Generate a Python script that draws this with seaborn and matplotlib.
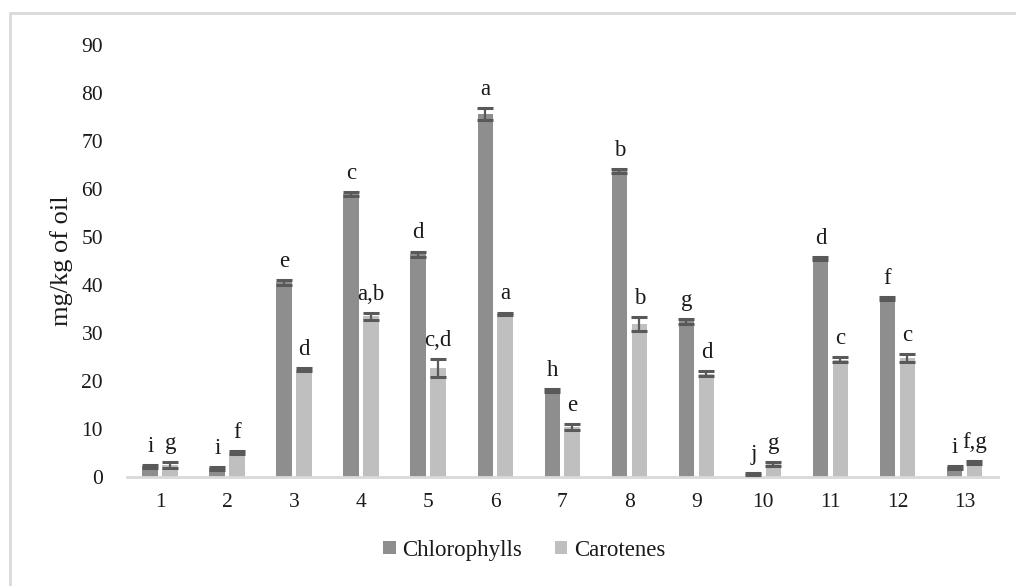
import matplotlib
matplotlib.use("Agg")
import matplotlib.pyplot as plt
import numpy as np
import pandas as pd
import seaborn as sns
from matplotlib.patches import Rectangle

# Samples and measured pigment contents (mg/kg of oil)
samples = [str(i) for i in range(1, 14)]
chlorophylls = [2.3, 1.9, 40.6, 59.0, 46.4, 75.6, 18.1, 63.7, 32.5, 0.6, 45.5, 37.2, 2.1]
carotenes = [2.5, 5.1, 22.4, 33.5, 22.8, 34.0, 10.4, 31.9, 21.6, 2.8, 24.5, 24.9, 3.0]
chlorophylls_sd = [0.3, 0.3, 0.5, 0.4, 0.6, 1.2, 0.3, 0.4, 0.5, 0.2, 0.3, 0.3, 0.3]
carotenes_sd = [0.6, 0.3, 0.3, 0.7, 1.9, 0.3, 0.6, 1.5, 0.5, 0.4, 0.5, 0.8, 0.3]
chlorophylls_groups = ["i", "i", "e", "c", "d", "a", "h", "b", "g", "j", "d", "f", "i"]
carotenes_groups = ["g", "f", "d", "a,b", "c,d", "a", "e", "b", "d", "g", "c", "c", "f,g"]
series_names = ["Chlorophylls", "Carotenes"]
y_ticks = [0, 10, 20, 30, 40, 50, 60, 70, 80, 90]

df = pd.DataFrame({
    "sample": samples * 2,
    "value": chlorophylls + carotenes,
    "pigment": [series_names[0]] * len(samples) + [series_names[1]] * len(samples),
})

sns.set_theme(style="white")
plt.rcParams["font.family"] = ["Liberation Serif", "DejaVu Serif"]
plt.rcParams["text.color"] = "#1a1a1a"

fig = plt.figure(figsize=(10.16, 5.86), dpi=100)
ax = fig.add_axes([126.7 / 1016, 1 - 477.3 / 586, (998 - 126.7) / 1016, (477.3 - 45) / 586])

palette = {series_names[0]: "#8e8e8e", series_names[1]: "#bfbfbf"}
sns.barplot(data=df, x="sample", y="value", hue="pigment", order=samples,
            hue_order=series_names, palette=palette, width=0.596, gap=0.215,
            saturation=1, errorbar=None, legend=True, ax=ax, linewidth=0)

# Error bars and significance letters at each bar's position
n = len(samples)
bars = [p for p in ax.patches if isinstance(p, Rectangle) and p.get_width() > 0][: 2 * n]
bars = sorted(bars, key=lambda p: p.get_x())
vals = {series_names[0]: (chlorophylls, chlorophylls_sd, chlorophylls_groups),
        series_names[1]: (carotenes, carotenes_sd, carotenes_groups)}
for i in range(n):
    pair = bars[2 * i: 2 * i + 2]
    for bar, name in zip(pair, series_names):
        v, sd, grp = vals[name]
        xc = bar.get_x() + bar.get_width() / 2
        ax.errorbar(xc, v[i], yerr=sd[i], fmt="none", ecolor="#595959",
                    elinewidth=1.6, capsize=5.5, capthick=2.2, zorder=3)
        ax.annotate(grp[i], (xc, v[i] + sd[i]), xytext=(0, 9.4),
                    textcoords="offset points", ha="center", va="baseline",
                    fontsize=16.5, color="#1a1a1a")

ax.set_ylim(0, 90)
ax.set_xlim(-0.5, n - 0.5)
ax.set_yticks(y_ticks)
ax.tick_params(axis="y", length=0, pad=17, labelsize=15.5, labelcolor="#1a1a1a")
ax.tick_params(axis="x", length=0, pad=11, labelsize=15.5, labelcolor="#1a1a1a")
ax.set_xlabel("")
ax.set_ylabel("mg/kg of oil", fontsize=19, labelpad=6, color="#1a1a1a")
ax.grid(False)
for side in ["top", "right", "left"]:
    ax.spines[side].set_visible(False)
ax.spines["bottom"].set_color("#d9d9d9")
ax.spines["bottom"].set_linewidth(2)

handles, labels = ax.get_legend_handles_labels()
ax.get_legend().remove()
fig.legend(handles, labels, loc="center", bbox_to_anchor=(0.516, 0.0614), ncol=2,
           frameon=False, fontsize=16.5, handlelength=0.55, handleheight=0.55,
           handletextpad=0.3, columnspacing=1.4)

# Chart-area border
fig.patches.append(Rectangle((10 / 1016, -0.1), 1.2, 1 - 13 / 586 + 0.1,
                             transform=fig.transFigure, fill=False,
                             edgecolor="#d9d9d9", linewidth=2))

fig.savefig("out.png", dpi=100)
